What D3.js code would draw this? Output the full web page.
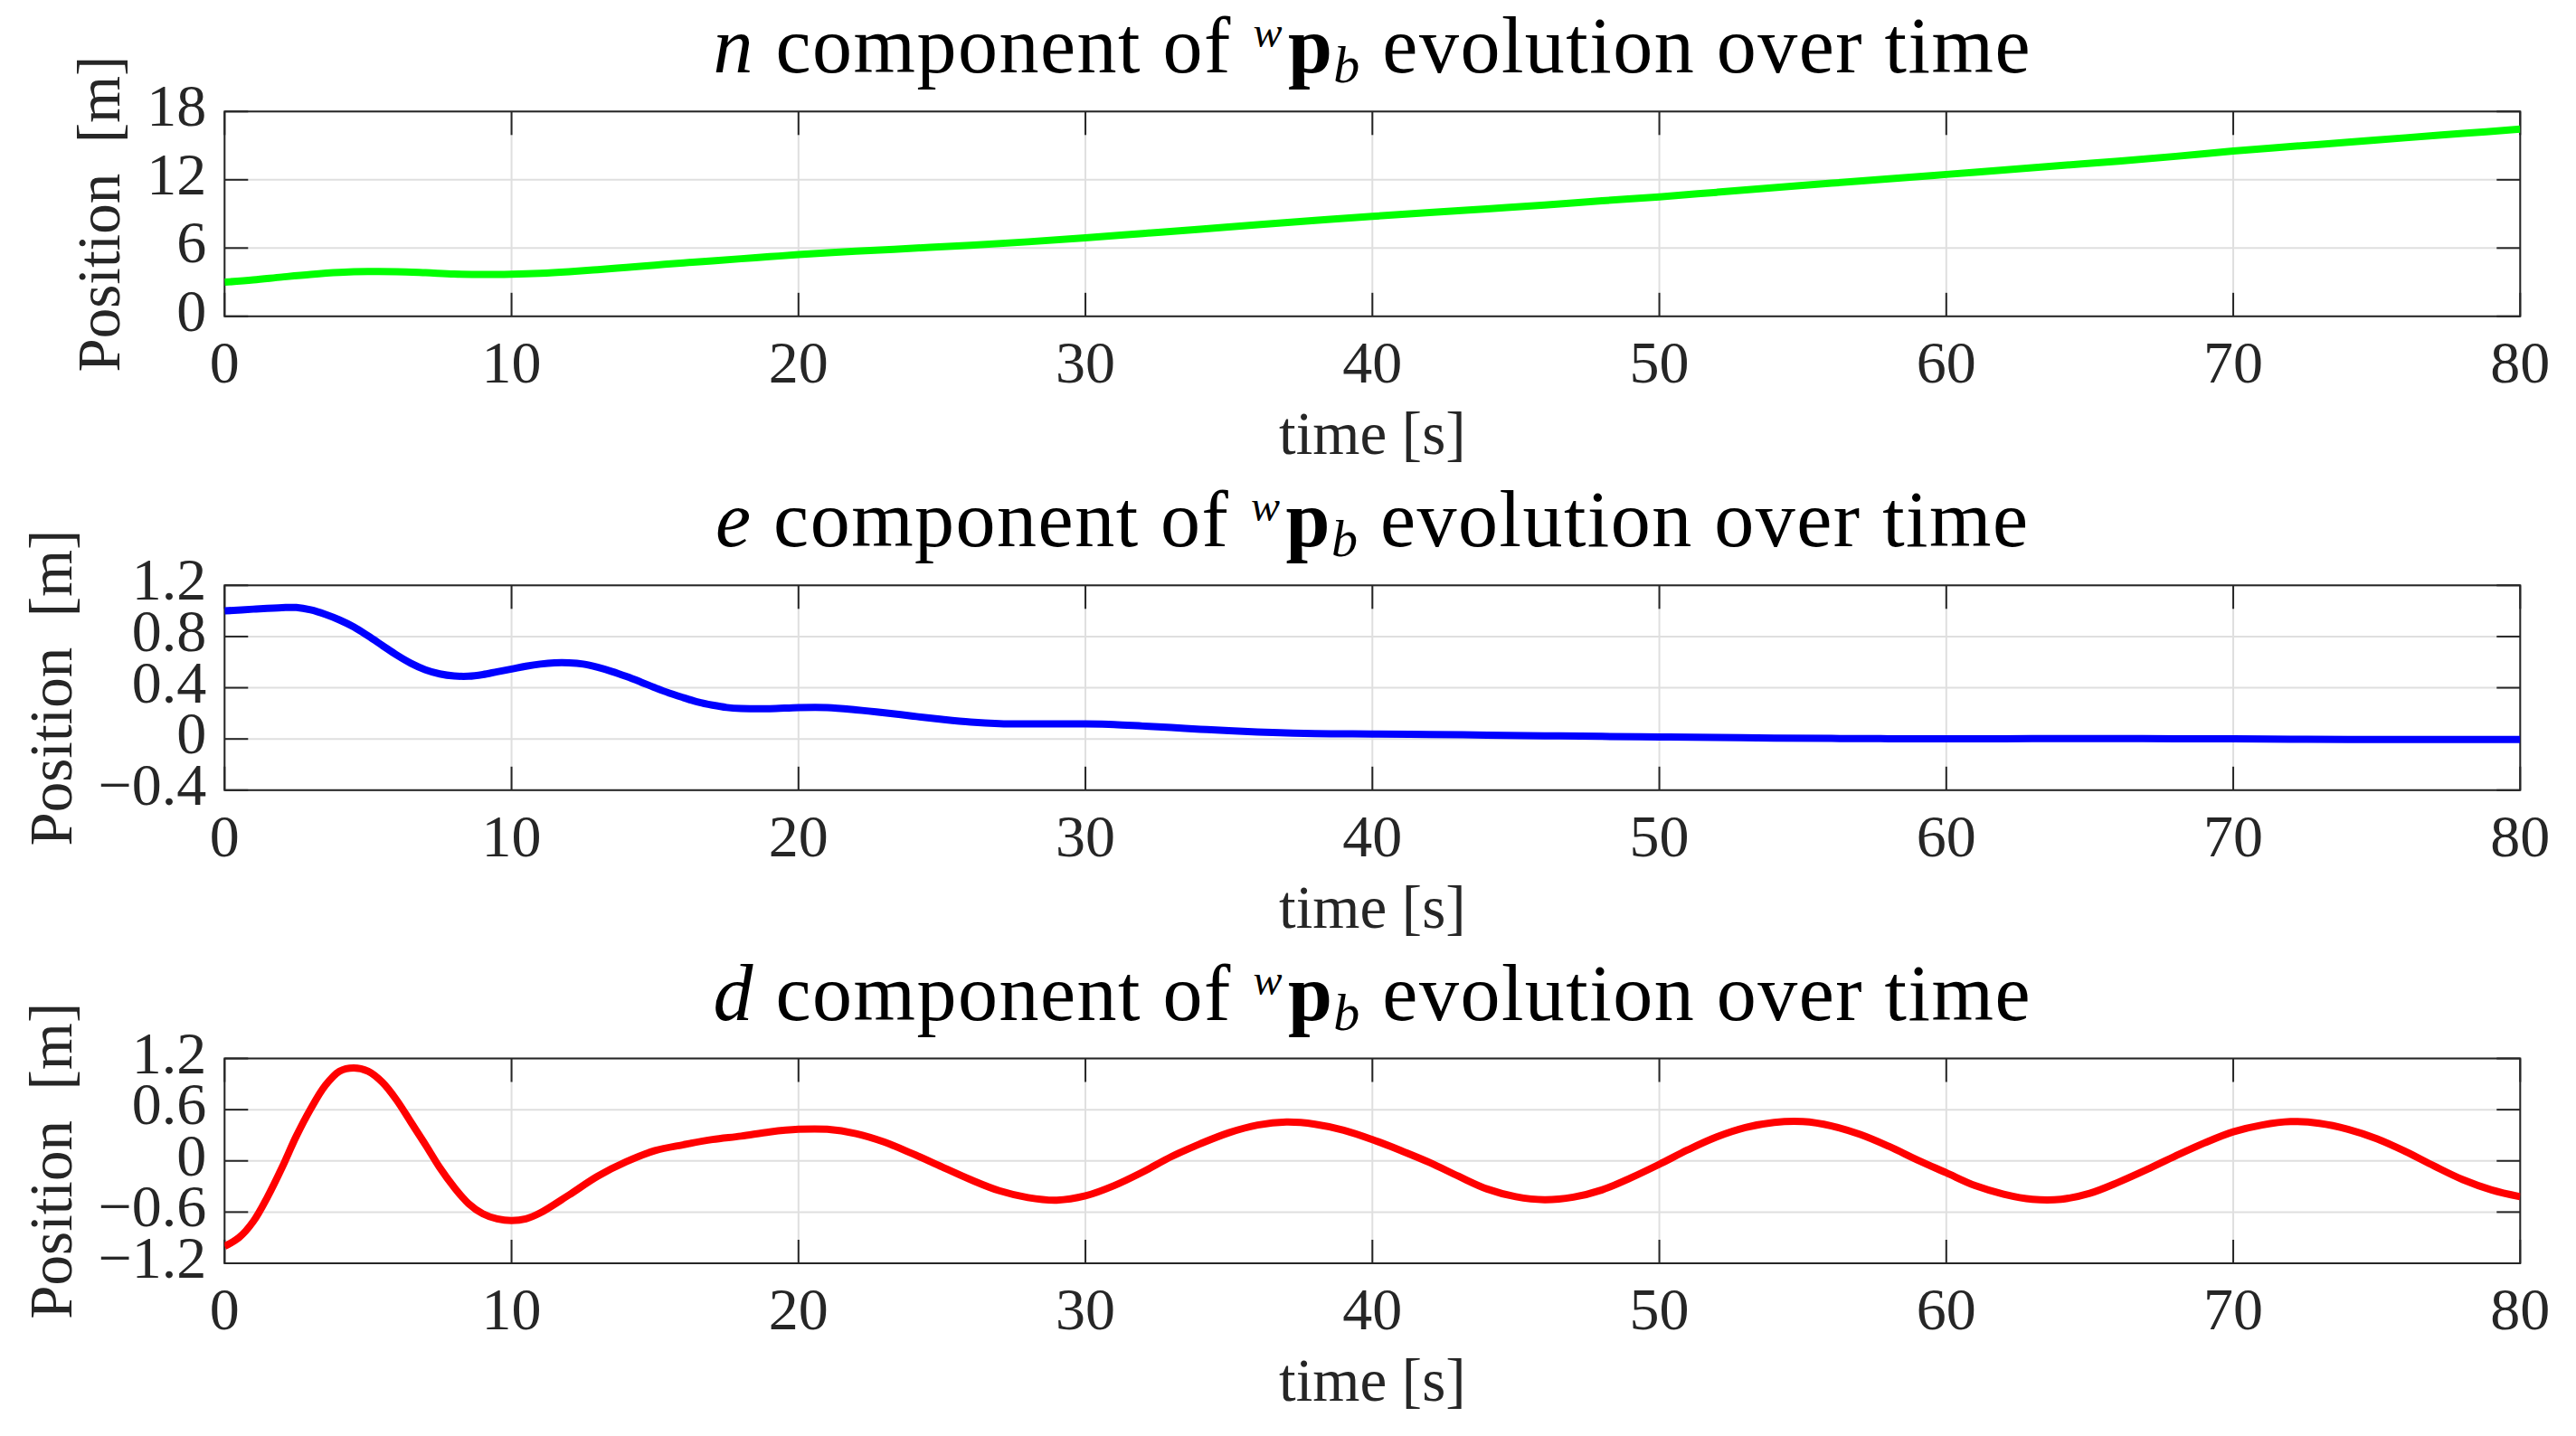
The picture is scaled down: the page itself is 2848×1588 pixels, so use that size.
<!DOCTYPE html>
<html>
<head>
<meta charset="utf-8">
<script src="https://cdn.jsdelivr.net/npm/d3@7"></script>
<style>
  html, body { margin: 0; padding: 0; background: #ffffff; }
  svg { display: block; }
  text { font-family: "Liberation Serif", "DejaVu Serif", serif; }
</style>
</head>
<body>
<script>
// ---------------- data ----------------
const xTicks = [0, 10, 20, 30, 40, 50, 60, 70, 80];

const nTime = [0,1,2,3,4,5,6,7,8,9,10,11,12,13,14,15,16,17,18,19,20,22,24,26,28,30,32,34,36,38,40,42,44,46,48,50,52,54,56,58,60,62,64,66,68,70,72,74,76,78,80];
const nPos  = [3.0,3.2,3.45,3.68,3.85,3.93,3.92,3.83,3.72,3.67,3.7,3.78,3.92,4.1,4.3,4.5,4.7,4.88,5.06,5.24,5.42,5.72,5.98,6.25,6.55,6.9,7.28,7.66,8.05,8.42,8.78,9.12,9.45,9.78,10.15,10.5,10.9,11.3,11.7,12.08,12.47,12.86,13.25,13.64,14.06,14.53,14.92,15.3,15.69,16.07,16.45];
const nTicks = [0, 6, 12, 18];

const eTime = [0,1,2,2.5,3,3.5,4,4.5,5,5.5,6,6.5,7,7.5,8,8.5,9,9.5,10,10.5,11,11.5,12,12.5,13,13.5,14,14.5,15,15.5,16,16.5,17,17.5,18,19,20,21,22,23,24,25,26,27,28,29,30,31,32,33,34,35,36,37,38,39,40,42,44,46,48,50,52,54,56,58,60,62,64,66,68,70,72,74,76,78,80];
const ePos  = [1.0,1.014,1.026,1.027,1.008,0.974,0.93,0.875,0.805,0.73,0.655,0.59,0.54,0.508,0.492,0.49,0.503,0.525,0.546,0.568,0.585,0.595,0.595,0.585,0.56,0.527,0.488,0.445,0.40,0.358,0.322,0.288,0.264,0.246,0.238,0.236,0.245,0.245,0.228,0.205,0.178,0.153,0.132,0.12,0.117,0.117,0.117,0.113,0.101,0.089,0.076,0.064,0.054,0.047,0.042,0.04,0.039,0.035,0.03,0.025,0.02,0.016,0.012,0.007,0.004,0.002,0.002,0.002,0.003,0.003,0.002,0.001,-0.002,-0.004,-0.004,-0.004,-0.004];
const eTicks = [-0.4, 0, 0.4, 0.8, 1.2];

const dTime = [0,0.5,1,1.5,2,2.5,3,3.5,4,4.5,5,5.5,6,6.5,7,7.5,8,8.5,9,9.5,10,10.5,11,12,13,14,15,16,17,18,19,20,21,22,23,24,25,26,27,28,29,30,31,32,33,34,35,36,37,38,39,40,41,42,43,44,45,46,47,48,49,50,51,52,53,54,55,56,57,58,59,60,61,62,63,64,65,66,67,68,69,70,71,72,73,74,75,76,77,78,79,80];
const dPos  = [-1.0,-0.9,-0.71,-0.42,-0.08,0.29,0.61,0.88,1.05,1.09,1.05,0.92,0.71,0.45,0.19,-0.08,-0.31,-0.5,-0.62,-0.68,-0.7,-0.68,-0.61,-0.4,-0.18,-0.01,0.12,0.19,0.25,0.29,0.34,0.37,0.37,0.32,0.22,0.08,-0.07,-0.22,-0.35,-0.43,-0.46,-0.41,-0.29,-0.13,0.05,0.2,0.33,0.42,0.455,0.43,0.36,0.25,0.12,-0.02,-0.18,-0.33,-0.42,-0.455,-0.425,-0.34,-0.2,-0.04,0.13,0.28,0.39,0.45,0.46,0.41,0.31,0.17,0.01,-0.14,-0.29,-0.39,-0.45,-0.45,-0.38,-0.25,-0.1,0.06,0.21,0.34,0.42,0.46,0.44,0.37,0.26,0.11,-0.06,-0.22,-0.34,-0.42];
const dTicks = [-1.2, -0.6, 0, 0.6, 1.2];

const components = ["n", "e", "d"];
const xLabel = "time [s]";
const yLabel = "Position  [m]";

// ---------------- layout ----------------
const W = 2848, H = 1588;
const plotLeft = 248.3, plotRight = 2786.3, plotH = 226.5;
const tops = [123.3, 647.3, 1170.5];
const tickLen = 26;
const axisColor = "#262626";
const gridColor = "#dfdfdf";
const tickFont = 66, labelFont = 67, titleFont = 88;

const panels = [
  { comp: components[0], t: nTime, v: nPos, ticks: nTicks, domain: [0, 18],    color: "#00ff00" },
  { comp: components[1], t: eTime, v: ePos, ticks: eTicks, domain: [-0.4, 1.2], color: "#0000ff" },
  { comp: components[2], t: dTime, v: dPos, ticks: dTicks, domain: [-1.2, 1.2], color: "#ff0000" }
];

const fmt = v => (Math.abs(v) < 1e-9 ? "0" : String(+v.toFixed(2)).replace("-", "\u2212"));

const svg = d3.select("body").append("svg")
  .attr("width", W).attr("height", H)
  .attr("viewBox", `0 0 ${W} ${H}`);

svg.append("rect").attr("width", W).attr("height", H).attr("fill", "#fff");

const x = d3.scaleLinear().domain([0, 80]).range([plotLeft, plotRight]);

panels.forEach((p, i) => {
  const top = tops[i], bottom = top + plotH;
  const y = d3.scaleLinear().domain(p.domain).range([bottom, top]);
  const g = svg.append("g");

  // grid
  g.append("g").selectAll("line").data(xTicks).join("line")
    .attr("x1", d => x(d)).attr("x2", d => x(d))
    .attr("y1", top).attr("y2", bottom)
    .attr("stroke", gridColor).attr("stroke-width", 2);
  g.append("g").selectAll("line").data(p.ticks).join("line")
    .attr("x1", plotLeft).attr("x2", plotRight)
    .attr("y1", d => y(d)).attr("y2", d => y(d))
    .attr("stroke", gridColor).attr("stroke-width", 2);

  // box
  g.append("rect")
    .attr("x", plotLeft).attr("y", top)
    .attr("width", plotRight - plotLeft).attr("height", plotH)
    .attr("fill", "none").attr("stroke", axisColor).attr("stroke-width", 2);

  // ticks (inward, all four sides)
  const tk = g.append("g").attr("stroke", axisColor).attr("stroke-width", 2);
  xTicks.forEach(d => {
    tk.append("line").attr("x1", x(d)).attr("x2", x(d)).attr("y1", bottom).attr("y2", bottom - tickLen);
    tk.append("line").attr("x1", x(d)).attr("x2", x(d)).attr("y1", top).attr("y2", top + tickLen);
  });
  p.ticks.forEach(d => {
    tk.append("line").attr("x1", plotLeft).attr("x2", plotLeft + tickLen).attr("y1", y(d)).attr("y2", y(d));
    tk.append("line").attr("x1", plotRight).attr("x2", plotRight - tickLen).attr("y1", y(d)).attr("y2", y(d));
  });

  // data line
  const clipId = "clip" + i;
  svg.append("clipPath").attr("id", clipId).append("rect")
    .attr("x", plotLeft).attr("y", top - 1).attr("width", plotRight - plotLeft).attr("height", plotH + 2);
  const pts = p.t.map((t, k) => [t, p.v[k]]);
  g.append("path")
    .attr("clip-path", `url(#${clipId})`)
    .attr("d", d3.line().x(d => x(d[0])).y(d => y(d[1])).curve(d3.curveCatmullRom.alpha(0.5))(pts))
    .attr("fill", "none").attr("stroke", p.color).attr("stroke-width", 8)
    .attr("stroke-linejoin", "round");

  // x tick labels
  g.append("g").selectAll("text").data(xTicks).join("text")
    .attr("x", d => x(d)).attr("y", bottom + 73)
    .attr("text-anchor", "middle").attr("font-size", tickFont).attr("fill", axisColor)
    .text(d => fmt(d));

  // y tick labels
  const yl = g.append("g");
  yl.selectAll("text").data(p.ticks).join("text")
    .attr("x", plotLeft - 20).attr("y", d => y(d) + 16)
    .attr("text-anchor", "end").attr("font-size", tickFont).attr("fill", axisColor)
    .text(d => fmt(d));
  const bb = yl.node().getBBox();

  // y label
  const ylx = bb.x - 30;
  g.append("text")
    .attr("transform", `translate(${ylx},${(top + bottom) / 2}) rotate(-90)`)
    .attr("text-anchor", "middle").attr("font-size", labelFont).attr("fill", axisColor)
    .style("white-space", "pre")
    .text(yLabel);

  // x label
  g.append("text")
    .attr("x", (plotLeft + plotRight) / 2).attr("y", bottom + 152)
    .attr("text-anchor", "middle").attr("font-size", labelFont).attr("fill", axisColor)
    .text(xLabel);

  // title
  const tt = g.append("text")
    .attr("x", (plotLeft + plotRight) / 2).attr("y", top - 43)
    .attr("text-anchor", "middle").attr("font-size", titleFont).attr("fill", "#000")
    .attr("letter-spacing", 1.5)
    .style("white-space", "pre");
  const sup = 28, sub = Math.round(titleFont * 0.12);
  const small = Math.round(titleFont * 0.55), smallSub = Math.round(titleFont * 0.66);
  tt.append("tspan").attr("font-style", "italic").text(p.comp);
  tt.append("tspan").text(" component of ");
  tt.append("tspan").attr("font-style", "italic").attr("font-size", small).attr("dy", -sup).text("w");
  tt.append("tspan").attr("font-weight", "bold").attr("font-size", titleFont).attr("dy", sup).attr("dx", 5).text("p");
  tt.append("tspan").attr("font-style", "italic").attr("font-size", smallSub).attr("dy", sub).text("b");
  tt.append("tspan").attr("font-size", titleFont).attr("dy", -sub).text(" evolution over time");
});
</script>
</body>
</html>
